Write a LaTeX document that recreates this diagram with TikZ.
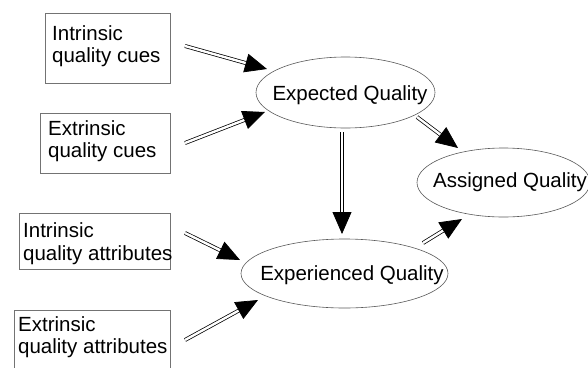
\documentclass[tikz,border=0pt]{standalone}
\usepackage{fontspec}
\setmainfont{Liberation Sans}
\usetikzlibrary{arrows.meta,shapes.geometric}

\tikzset{
  cuebox/.style={draw=black!55, line width=0.8pt},
  quality/.style={draw=black!65, line width=0.6pt, ellipse, inner sep=0pt},
  lbl/.style={inner sep=0pt, font=\fontsize{20.5}{23}\selectfont},
  dblarrow/.style={double, double distance=2.4pt, line width=0.75pt,
    -{Triangle[length=22pt,width=19pt]}},
}

\begin{document}
\begin{tikzpicture}[x=1pt,y=-1pt]
  \clip (0,0) rectangle (588,367);

  % cue and attribute boxes
  \draw[cuebox] (45,13) rectangle (170,83);
  \node[lbl, anchor=base west] (b1a) at (52,40) {Intrinsic};
  \node[lbl, anchor=base west] (b1b) at (52,62) {quality cues};

  \draw[cuebox] (40,113) rectangle (170,173);
  \node[lbl, anchor=base west] (b2a) at (48,135) {Extrinsic};
  \node[lbl, anchor=base west] (b2b) at (48,157.5) {quality cues};

  \draw[cuebox] (19,213) rectangle (170,269);
  \node[lbl, anchor=base west] (b3a) at (23,237) {Intrinsic};
  \node[lbl, anchor=base west] (b3b) at (23,260) {quality attributes};

  \draw[cuebox] (14,310) rectangle (170,380);
  \node[lbl, anchor=base west] (b4a) at (18,331) {Extrinsic};
  \node[lbl, anchor=base west] (b4b) at (18,353) {quality attributes};

  % quality ellipses
  \node[quality, minimum width=179pt, minimum height=71pt] (exp) at (345.5,92.5) {};
  \node[lbl, anchor=base] (expT) at (350,100) {Expected Quality};

  \node[quality, minimum width=207pt, minimum height=69pt] (epc) at (344.5,273.5) {};
  \node[lbl, anchor=base] (epcT) at (352,280) {Experienced Quality};

  \node[quality, minimum width=173pt, minimum height=69pt] (asg) at (503.5,182.5) {};
  \node[lbl, anchor=base] (asgT) at (510,187) {Assigned Quality};

  % arrow end points
  \coordinate (a1s) at (185,46);  \coordinate (a1e) at (267,69);
  \coordinate (a2s) at (185,143); \coordinate (a2e) at (265,112);
  \coordinate (a3s) at (185,233); \coordinate (a3e) at (240,260);
  \coordinate (a4s) at (185,340); \coordinate (a4e) at (258,300);
  \coordinate (a5s) at (342,132); \coordinate (a5e) at (342,234);
  \coordinate (a6s) at (417,117); \coordinate (a6e) at (458,148);
  \coordinate (a7s) at (423,243); \coordinate (a7e) at (462,219);

  \draw[dblarrow] (a1s) -- (a1e);
  \draw[dblarrow] (a2s) -- (a2e);
  \draw[dblarrow] (a3s) -- (a3e);
  \draw[dblarrow] (a4s) -- (a4e);
  \draw[dblarrow] (a5s) -- (a5e);
  \draw[dblarrow] (a6s) -- (a6e);
  \draw[dblarrow] (a7s) -- (a7e);
\end{tikzpicture}
\end{document}
